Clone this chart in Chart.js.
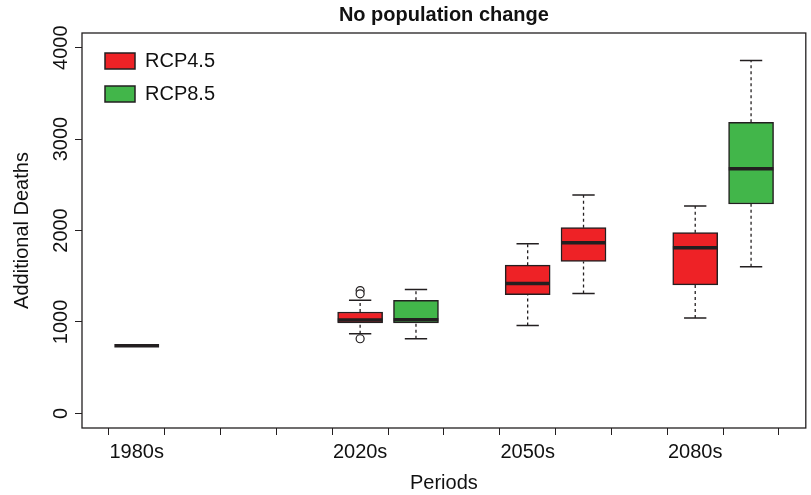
<!DOCTYPE html>
<html>
<head>
<meta charset="utf-8">
<script src="https://cdn.jsdelivr.net/npm/chart.js@4"></script>
<style>
  body { margin: 0; background: #fff; }
  #wrap { width: 811px; height: 495px; position: relative; }
</style>
</head>
<body>
<div id="wrap"><canvas id="chart"></canvas></div>
<script>
// tick labels on the period axis
const periodLabels = ["1980s", "2020s", "2050s", "2080s"];
const periodPos = [1, 5, 8, 11];
const yTicks = [0, 1000, 2000, 3000, 4000];

// baseline (1980s) - single value
const basePos = [1];
const baseVal = [739];

// RCP4.5 boxes
const rcp45Pos = [5, 8, 9, 11];
const rcp45Min = [871, 962, 1310, 1043];
const rcp45Q1 = [988, 1299, 1661, 1405];
const rcp45Med = [1021, 1420, 1866, 1812];
const rcp45Q3 = [1109, 1621, 2031, 1976];
const rcp45Max = [1236, 1856, 2389, 2268];

// RCP8.5 boxes
const rcp85Pos = [6, 12];
const rcp85Min = [816, 1603];
const rcp85Q1 = [988, 2290];
const rcp85Med = [1024, 2675];
const rcp85Q3 = [1236, 3184];
const rcp85Max = [1354, 3860];

// outliers
const outX = [5, 5, 5];
const outY = [1343, 1307, 816];

const RED = "rgb(238, 34, 38)";
const GREEN = "rgb(66, 182, 74)";
const INK = "#231f20";

const allPos = rcp45Pos.concat(rcp85Pos);
const allMin = rcp45Min.concat(rcp85Min);
const allQ1 = rcp45Q1.concat(rcp85Q1);
const allMed = rcp45Med.concat(rcp85Med);
const allQ3 = rcp45Q3.concat(rcp85Q3);
const allMax = rcp45Max.concat(rcp85Max);

// build segment lists, broken with nulls
function segments(fn) {
  const pts = [];
  for (let i = 0; i < allPos.length; i++) {
    fn(i).forEach((p) => pts.push(p));
    pts.push({ x: allPos[i], y: null });
  }
  return pts;
}

const whiskerPts = segments((i) => [
  { x: allPos[i], y: allMin[i] }, { x: allPos[i], y: allQ1[i] },
  { x: allPos[i], y: null },
  { x: allPos[i], y: allQ3[i] }, { x: allPos[i], y: allMax[i] },
]);
const capPts = segments((i) => [
  { x: allPos[i] - 0.2, y: allMin[i] }, { x: allPos[i] + 0.2, y: allMin[i] },
  { x: allPos[i], y: null },
  { x: allPos[i] - 0.2, y: allMax[i] }, { x: allPos[i] + 0.2, y: allMax[i] },
]);
const medPts = segments((i) => [
  { x: allPos[i] - 0.4, y: allMed[i] }, { x: allPos[i] + 0.4, y: allMed[i] },
]);
basePos.forEach((p, i) => {
  medPts.push({ x: p - 0.4, y: baseVal[i] }, { x: p + 0.4, y: baseVal[i] }, { x: p, y: null });
});

const framePlugin = {
  id: "frame",
  afterDraw(chart) {
    const a = chart.chartArea;
    const ctx = chart.ctx;
    ctx.save();
    ctx.strokeStyle = INK;
    ctx.lineWidth = 1.3;
    ctx.strokeRect(a.left, a.top, a.right - a.left, a.bottom - a.top);
    ctx.restore();
  },
};

// the vertical legend gets top=0 from layout, put it inside the plot box
const legendShift = {
  id: "legendShift",
  afterLayout(chart) {
    chart.legend.left += 10;
    chart.legend.top = chart.chartArea.top + 5;
  },
};

Chart.defaults.font.family = "'Liberation Sans', Arial, sans-serif";
Chart.defaults.color = INK;

new Chart(document.getElementById("chart"), {
  type: "bar",
  data: {
    datasets: [
      {
        label: "RCP4.5",
        data: rcp45Pos.map((x, i) => ({ x: x, y: [rcp45Q1[i], rcp45Q3[i]] })),
        backgroundColor: RED,
        borderColor: INK,
        borderWidth: 1.5,
        borderSkipped: false,
        barThickness: 45,
        grouped: false,
        order: 3,
      },
      {
        label: "RCP8.5",
        data: rcp85Pos.map((x, i) => ({ x: x, y: [rcp85Q1[i], rcp85Q3[i]] })),
        backgroundColor: GREEN,
        borderColor: INK,
        borderWidth: 1.5,
        borderSkipped: false,
        barThickness: 45,
        grouped: false,
        order: 3,
      },
      {
        type: "line",
        label: "whiskers",
        data: whiskerPts,
        borderColor: INK,
        borderWidth: 1.3,
        borderDash: [3, 3],
        pointRadius: 0,
        spanGaps: false,
        order: 2,
      },
      {
        type: "line",
        label: "caps",
        data: capPts,
        borderColor: INK,
        borderWidth: 1.5,
        pointRadius: 0,
        spanGaps: false,
        order: 2,
      },
      {
        type: "line",
        label: "median",
        data: medPts,
        borderColor: INK,
        borderWidth: 3.5,
        borderCapStyle: "butt",
        pointRadius: 0,
        spanGaps: false,
        order: 1,
      },
      {
        type: "scatter",
        label: "outliers",
        data: outX.map((x, i) => ({ x: x, y: outY[i] })),
        pointRadius: 4,
        pointBackgroundColor: "#fff",
        pointBorderColor: INK,
        pointBorderWidth: 1.2,
        order: 0,
      },
    ],
  },
  options: {
    responsive: true,
    maintainAspectRatio: false,
    animation: false,
    layout: { padding: { left: 0, right: 2, top: 0, bottom: 0 } },
    plugins: {
      title: {
        display: true,
        text: "No population change",
        fullSize: false,
        color: "#111",
        font: { size: 20, weight: "bold" },
        padding: { top: 3, bottom: 6 },
      },
      legend: {
        position: "chartArea",
        align: "start",
        labels: {
          boxWidth: 30,
          boxHeight: 16,
          padding: 13,
          color: "#111",
          font: { size: 20 },
          filter: (item) => item.text === "RCP4.5" || item.text === "RCP8.5",
        },
        onClick: null,
      },
      tooltip: { enabled: false },
    },
    scales: {
      x: {
        type: "linear",
        min: 0.02,
        max: 12.98,
        offset: false,
        grid: { display: true, drawOnChartArea: false, drawTicks: true, tickLength: 7, color: INK, lineWidth: 1 },
        border: { display: false },
        ticks: {
          stepSize: 1,
          includeBounds: false,
          autoSkip: false,
          maxRotation: 0,
          padding: 5,
          color: "#111",
          font: { size: 20 },
          callback: (v) => {
            const k = periodPos.indexOf(v);
            return k >= 0 ? periodLabels[k] : "";
          },
        },
        title: {
          display: true,
          text: "Periods",
          color: "#111",
          font: { size: 20 },
          padding: { top: 0, bottom: 0 },
        },
        afterFit: (scale) => { scale.height = 67; },
      },
      y: {
        type: "linear",
        min: -160,
        max: 4160,
        afterBuildTicks: (scale) => {
          scale.ticks = yTicks.map((v) => ({ value: v }));
        },
        grid: { display: true, drawOnChartArea: false, drawTicks: true, tickLength: 7, color: INK, lineWidth: 1 },
        border: { display: false },
        ticks: {
          autoSkip: false,
          minRotation: 90,
          maxRotation: 90,
          crossAlign: "center",
          padding: -9,
          color: "#111",
          font: { size: 20 },
          callback: (v) => String(v),
        },
        title: {
          display: true,
          text: "Additional Deaths",
          color: "#111",
          font: { size: 20 },
          padding: { top: 10, bottom: 0 },
        },
        afterFit: (scale) => { scale.width = 82; },
      },
    },
  },
  plugins: [framePlugin, legendShift],
});
</script>
</body>
</html>
